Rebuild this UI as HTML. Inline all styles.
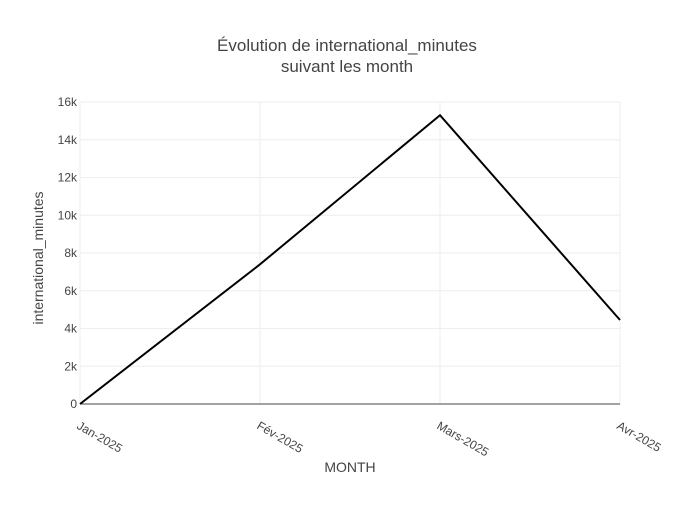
<!DOCTYPE html>
<html><head><meta charset="utf-8"><style>
body{margin:0;background:#fff;}
svg{font-family:"Liberation Sans",sans-serif;}
</style></head><body>
<svg id="chart" width="700" height="500" xmlns="http://www.w3.org/2000/svg">
<text x="347" y="51" text-anchor="middle" font-size="17" fill="#444"><tspan x="347">Évolution de international_minutes</tspan><tspan x="347" dy="21">suivant les month</tspan></text>
<g id="grid"></g><g id="axes"></g><g id="series"></g>
<text x="350" y="472" text-anchor="middle" font-size="14" fill="#444">MONTH</text>
<text transform="translate(43,258) rotate(-90)" text-anchor="middle" font-size="14" fill="#444">international_minutes</text>
</svg>
<script>
const categories = ["Jan-2025","Fév-2025","Mars-2025","Avr-2025"];
const values = [0, 7400, 15300, 4450];
const yTicks = [0,2000,4000,6000,8000,10000,12000,14000,16000];
const yTickLabels = ["0","2k","4k","6k","8k","10k","12k","14k","16k"];
const NS="http://www.w3.org/2000/svg";
const x0=80,x1=620,yb=404,yt=102,ymax=16000;
const xs=i=>x0+i*(x1-x0)/(categories.length-1);
const ys=v=>yb-v/ymax*(yb-yt);
function mk(t,a,p){const e=document.createElementNS(NS,t);for(const k in a)e.setAttribute(k,a[k]);p.appendChild(e);return e;}
const grid=document.getElementById('grid'),axes=document.getElementById('axes'),ser=document.getElementById('series');
yTicks.forEach((v,i)=>{
 if(v>0){const l=mk('line',{x1:x0,x2:x1,y1:ys(v),y2:ys(v),stroke:'#eee','stroke-width':1},grid);
 
 }
 const t=mk('text',{x:x0-3,y:ys(v)+4,'text-anchor':'end','font-size':12,fill:'#444'},axes);
 t.textContent=yTickLabels[i];
 
 
});
categories.forEach((c,i)=>{
 const l=mk('line',{x1:xs(i),x2:xs(i),y1:yt,y2:yb,stroke:'#eee','stroke-width':1},grid);
 
 
 const t=mk('text',{transform:`translate(${xs(i)-4},${yb+24}) rotate(30)`,'font-size':12,fill:'#444'},axes);
 t.textContent=c;
 
 
});
const z=mk('line',{x1:x0,x2:x1,y1:yb,y2:yb,stroke:'#444','stroke-width':1},axes);


const p=mk('polyline',{points:values.map((v,i)=>xs(i)+','+ys(v)).join(' '),fill:'none',stroke:'#000','stroke-width':2},ser);


</script>
</body></html>
